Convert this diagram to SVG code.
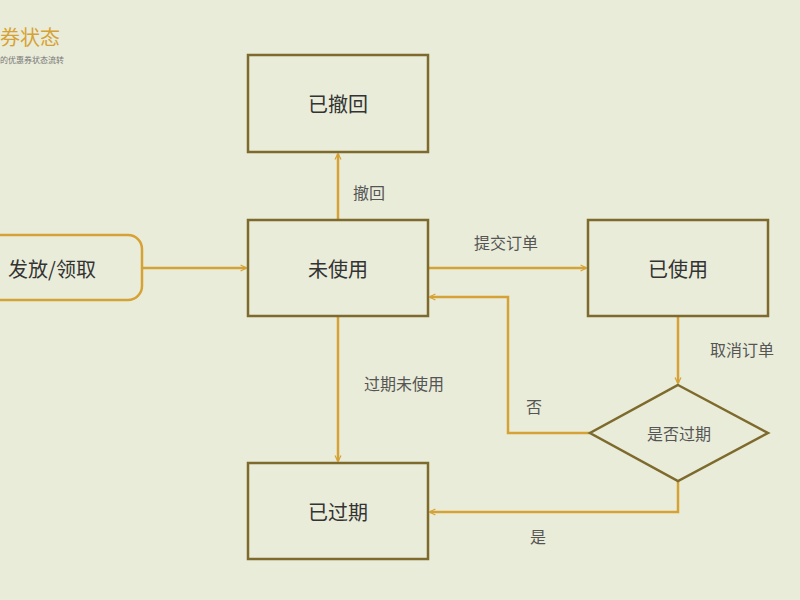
<svg xmlns="http://www.w3.org/2000/svg" width="800" height="600" viewBox="0 0 800 600">
<defs>
<style>
text{font-family:"Noto Sans CJK SC","Noto Sans",sans-serif;}
.n{fill:#e9ecd9;stroke:#7d6a2c;stroke-width:2.5}
.t{font-size:20px;fill:#333;text-anchor:middle;dominant-baseline:central}
.l{font-size:16px;fill:#555;text-anchor:middle;dominant-baseline:central}
.c{fill:none;stroke:#d6a235;stroke-width:2.5}
</style>
<marker id="a" viewBox="0 0 10 10" refX="9" refY="5" markerWidth="6" markerHeight="6" orient="auto" markerUnits="userSpaceOnUse" overflow="visible"><path d="M0,0 L10,5 L0,10" fill="none" stroke="#d6a235" stroke-width="2"/></marker>
</defs>
<rect width="800" height="600" fill="#e9ecd9"/>
<text x="0" y="36" font-size="20" fill="#d6a235" dominant-baseline="central">券状态</text>
<text x="0" y="59" font-size="8" fill="#777" dominant-baseline="central">的优惠券状态流转</text>
<g id="connectors">
<path class="c" d="M338,220 V154" marker-end="url(#a)"/>
<path class="c" d="M142,268 H246" marker-end="url(#a)"/>
<path class="c" d="M428,268 H586" marker-end="url(#a)"/>
<path class="c" d="M678,316 V383" marker-end="url(#a)"/>
<path class="c" d="M590,433 H508 V297 H430" marker-end="url(#a)"/>
<path class="c" d="M678,481 V512 H430" marker-end="url(#a)"/>
<path class="c" d="M338,316 V461" marker-end="url(#a)"/>
<text class="l" x="369" y="192">撤回</text>
<text class="l" x="506" y="242">提交订单</text>
<text class="l" x="742" y="349">取消订单</text>
<text class="l" x="534" y="406">否</text>
<text class="l" x="538" y="536">是</text>
<text class="l" x="404" y="383">过期未使用</text>
</g>
<g id="n-revoked"><rect class="n" x="248" y="55" width="180" height="97"/><text class="t" x="338" y="103">已撤回</text></g>
<g id="n-unused"><rect class="n" x="248" y="220" width="180" height="96"/><text class="t" x="338" y="268">未使用</text></g>
<g id="n-used"><rect class="n" x="588" y="220" width="180" height="96"/><text class="t" x="678" y="268">已使用</text></g>
<g id="n-expired"><rect class="n" x="248" y="463" width="180" height="96"/><text class="t" x="338" y="511">已过期</text></g>
<g id="n-issue"><rect x="-30" y="235" width="172" height="65" rx="14" fill="#e9ecd9" stroke="#d6a235" stroke-width="2.5"/><text class="t" x="52" y="268">发放/领取</text></g>
<g id="n-check"><path class="n" d="M678,385 L768,433 L678,481 L590,433 Z"/><text class="l" x="679" y="433" fill="#333">是否过期</text></g>
</svg>
